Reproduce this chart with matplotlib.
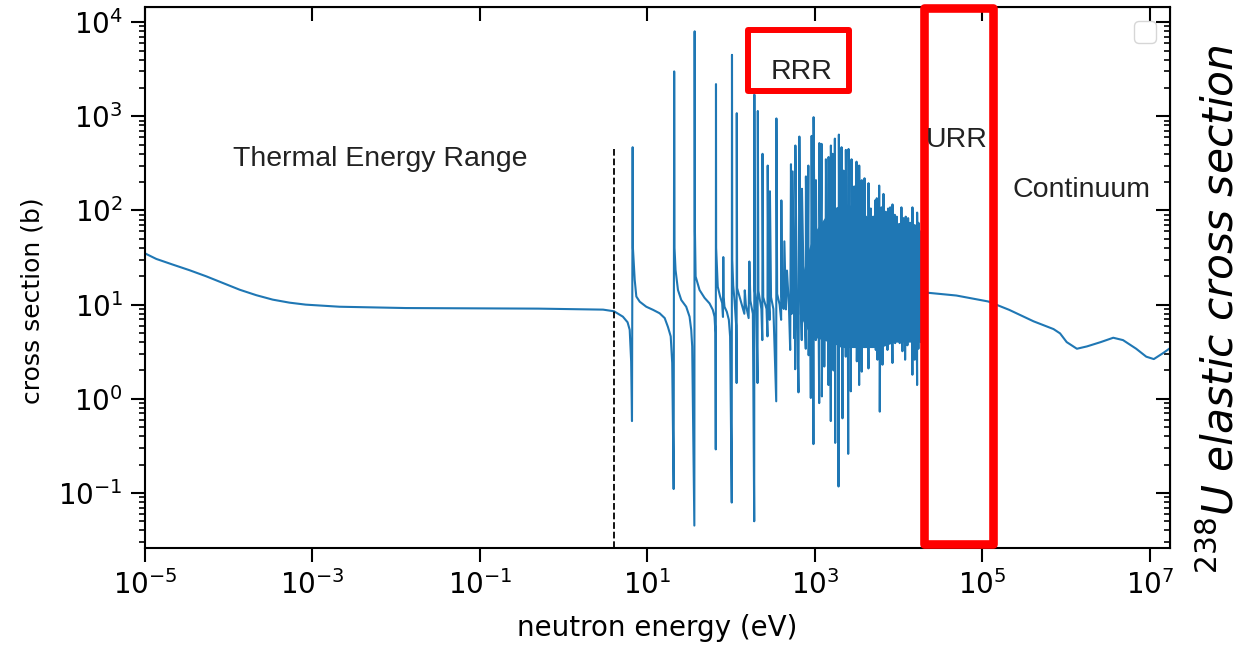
import numpy as np
import matplotlib.pyplot as plt
from matplotlib.patches import Rectangle
from matplotlib.ticker import NullLocator
import matplotlib.transforms as mtransforms

# --- data (energy in eV, cross section in b) ---
thermal_E = [1e-5, 1.36e-5, 2.15e-5, 3.4e-5, 5.37e-5, 8.5e-5, 1.35e-4, 2.13e-4,
             3.35e-4, 5.3e-4, 8.3e-4, 2.1e-3, 1.3e-2, 0.5, 2.96, 4.0, 5.1, 5.8,
             6.15, 6.4]
thermal_xs = [35, 30.6, 26.6, 23.2, 20.0, 17.0, 14.4, 12.6,
              11.3, 10.5, 10.0, 9.5, 9.2, 9.07, 8.85, 8.5, 7.45, 6.5,
              5.4, 2.5]

# isolated resolved resonances
res_E = [6.55, 6.67, 6.72, 7.06, 7.38, 8.1, 9.7, 11.7, 14.0, 16.1, 17.6, 19.0,
         19.8, 20.6, 20.9, 21.1, 21.7, 23.2, 25.4, 29.1, 31.9, 33.4, 34.3,
         36.4, 36.7, 37.0, 37.7, 42.0, 48.2, 55.3, 60.5, 63.4, 65.0,
         65.6, 66.0, 66.3, 69.3, 73.9, 78.2, 80.0, 80.7, 81.5, 83.4, 88.9, 94,
         97.3, 101.8, 102.5, 103.2, 106, 110, 115, 116.4, 116.9, 118,
         130, 144, 145.7, 150, 162, 165.3, 170, 182, 188.9, 189.7, 192, 200,
         207, 208.5, 212, 230, 236, 237.4, 242, 265, 272, 273.7, 280, 289, 291,
         300, 320, 346, 347.8, 355, 380, 396, 398.6, 405]
res_xs = [0.58, 470, 40, 18.3, 12.2, 10.75, 9.5, 8.8, 8.1, 7.2, 5.8, 4.6,
          2.4, 0.11, 3000, 40, 23.4, 14.3, 11.2, 9.5, 7.45, 5.4, 3.6,
          0.045, 8000, 60, 19.9, 14.3, 11.8, 10.3, 8.8, 7.45, 5.0,
          0.29, 2200, 40, 15.5, 12.2, 10.4, 7.4, 32, 12, 9.5, 8.4, 6.9,
          4.6, 0.079, 4500, 30, 16, 11, 6, 1.47, 1080, 15,
          11, 8, 14.2, 10, 7.2, 28.7, 11, 8, 0.05, 1700, 14, 10,
          1.47, 1140, 14, 9, 4.2, 400, 12, 9, 4.6, 300, 11, 6.9, 160,
          12, 9, 0.94, 950, 13, 10, 6.9, 128, 12]

# individual spikes of the dense part of the resolved range
dense_E = [425, 433, 452, 465, 490, 508, 519, 530, 544, 568, 575, 583, 586, 610,
           638, 654, 680, 698, 702, 740, 780, 783, 815, 837, 844, 870, 896, 916,
           940, 950, 963, 967, 1005, 1020, 1028, 1031, 1060, 1095, 1128, 1132,
           1170, 1205, 1215, 1235, 1255, 1273, 1298, 1320, 1340, 1357, 1405,
           1430, 1456, 1460, 1505, 1530, 1552, 1556, 1600, 1630, 1672, 1705,
           1720, 1736, 1752, 1760, 1800, 1834, 1870, 1900, 1920, 1938, 1975,
           1995, 2013, 2050, 2070, 2086, 2140, 2150, 2175, 2204, 2220, 2260,
           2300, 2320, 2343, 2348, 2420, 2470, 2505, 2529, 2600, 2650, 2690,
           2746, 2800, 2860, 2901, 2957, 3000, 3070, 3100, 3149, 3175, 3250,
           3300, 3350, 3385, 3391, 3460, 3520, 3600, 3636, 3642, 3720, 3800,
           3860, 3923, 3999, 4080, 4110, 4145, 4200, 4300, 4375, 4379, 4450,
           4560, 4640, 4664, 4750, 4850, 4983, 5023, 5100, 5180, 5262, 5349,
           5420, 5460, 5498, 5604, 5700, 5800, 5873, 5970, 6100, 6200, 6256,
           6429, 6500, 6550, 6607, 6700, 6850, 6923, 7037, 7200, 7300, 7374,
           7516, 7700, 7800, 7935, 7942, 8100, 8300, 8460, 8470, 8700, 8850,
           8950, 9012, 9111, 9300, 9400, 9517, 9703, 9900, 10000, 10166, 10335,
           10500, 10650, 10829, 11130, 11300, 11380, 11439, 11700, 11850, 11985,
           12183, 12500, 12650, 12766, 13013, 13300, 13500, 13752, 13760, 14100,
           14400, 14649, 14660, 15000, 15300, 15606, 15620, 16000, 16300, 16667,
           16680, 17000, 17100, 17274, 17300, 17700, 18100, 18500, 18900, 19300,
           19700]
dense_xs = [9, 47, 8.9, 23, 10, 3.3, 310, 8, 260, 4.4, 14, 2.06, 490, 11,
            1.17, 610, 12, 4.2, 170, 13, 3.4, 230, 6, 300, 2.9, 25, 1.02, 620,
            7, 20, 0.33, 980, 10, 30, 4.2, 210, 8, 35, 0.9, 520,
            9, 510, 1.06, 30, 8, 53, 2.2, 25, 7, 350, 8,
            20, 1.4, 370, 6, 25, 0.58, 490, 9, 400, 2.0, 30,
            6, 580, 0.34, 25, 8, 53, 8, 30, 0.117, 640, 9,
            25, 3.6, 30, 8, 470, 0.62, 22, 7, 265, 9, 40,
            7, 30, 2.8, 440, 9, 40, 0.26, 450, 8, 30, 1.2,
            350, 9, 30, 5.4, 180, 9, 35, 6, 330, 2.5, 40,
            8, 35, 1.4, 300, 9, 40, 6, 1.94, 210, 10, 35,
            7, 220, 8.5, 30, 9, 69, 7, 40, 2.1, 195, 9,
            35, 5.6, 105, 9, 30, 86, 6.9, 30, 8, 128, 3.3,
            30, 8, 135, 2.6, 30, 9, 184, 0.73, 30, 8, 108,
            2.3, 30, 9, 150, 7, 25, 4.2, 97, 8, 25, 3.3,
            105, 8, 30, 4.0, 108, 8, 30, 2.4, 116, 8, 30,
            7, 90, 3.9, 30, 8, 86, 5.0, 30, 8, 72, 3.9,
            30, 8, 108, 3.2, 30, 8, 83, 9, 30, 2.6,
            86, 9, 25, 3.7, 83, 9, 25, 4.8, 74, 9,
            30, 1.8, 108, 8, 30, 2.6, 70, 8, 30, 1.4,
            95, 8, 25, 3.4, 74, 6, 60, 4, 50, 5,
            40]

# band that the unresolvable dense lines fill solid
band_E = [650, 700, 850, 1000, 1500, 2200, 3000, 4000, 6000, 9000, 13000, 19000]
band_lo = [8, 7, 5, 4.5, 4, 3.5, 3.5, 3.5, 3.5, 4, 4, 4]
band_hi = [12, 20, 40, 60, 100, 120, 110, 90, 70, 60, 55, 55]

# unresolved range and continuum
cont_E = [2.0e4, 4.9e4, 1.18e5, 2.1e5, 4.1e5, 7.1e5, 8.5e5, 1.02e6, 1.35e6,
          1.78e6, 2.6e6, 3.67e6, 4.8e6, 6.9e6, 9.1e6, 1.12e7, 1.44e7, 1.75e7]
cont_xs = [13.5, 12.5, 10.8, 8.8, 6.65, 5.5, 4.95, 4.0, 3.4,
           3.6, 4.0, 4.45, 4.2, 3.4, 2.8, 2.64, 3.05, 3.45]

thermal_cut = 4.0            # eV, dashed line
urr_range = (2.0e4, 1.33e5)  # eV, red box

energy = np.concatenate([thermal_E, res_E, dense_E, cont_E])
xs = np.concatenate([thermal_xs, res_xs, dense_xs, cont_xs])

blue = '#1f77b4'

# --- figure ---
fig = plt.figure(figsize=(12.43, 6.48), dpi=100)
ax = fig.add_axes([0.1167, 0.1543, 0.8246, 0.8349])
ax.fill_between(band_E, band_lo, band_hi, color=blue, lw=0)
ax.plot(energy, xs, color=blue, lw=1.5)
ax.set_xscale('log')
ax.set_yscale('log')
ax.set_xlim(1e-5, 1.75e7)
ax.set_ylim(0.026, 1.45e4)
ax.vlines(thermal_cut, 0.026, 450, colors='k', linestyles='--', lw=1.3)

xt = [1e-5, 1e-3, 1e-1, 1e1, 1e3, 1e5, 1e7]
ax.set_xticks(xt)
ax.xaxis.set_minor_locator(NullLocator())
ax.tick_params(which='major', direction='out', length=10, width=1.5,
               labelsize=20, pad=6)
ax.tick_params(which='minor', direction='out', length=4.5, width=1.2)
for s in ax.spines.values():
    s.set_linewidth(1.5)

secx = ax.secondary_xaxis('top')
secx.set_xticks(xt)
secx.xaxis.set_minor_locator(NullLocator())
secx.tick_params(which='major', direction='in', length=10, width=1.5, labeltop=False)
secy = ax.secondary_yaxis('right')
secy.tick_params(which='major', direction='in', length=10, width=1.5, labelright=False)
secy.tick_params(which='minor', direction='in', length=4.5, width=1.2)

ax.set_xlabel('neutron energy (eV)', fontsize=20, labelpad=10)
ax.set_ylabel('cross section (b)', fontsize=18)
ax.yaxis.set_label_coords(-0.098, 0.458)

ax.legend(handles=[], loc='upper right', fontsize=20)

# region boxes and labels
blend = mtransforms.blended_transform_factory(ax.transData, ax.transAxes)
ax.add_patch(Rectangle((urr_range[0], 0.0074), urr_range[1] - urr_range[0], 0.9908,
                       transform=blend, fill=False, ec='red', lw=6.2,
                       joinstyle='round', clip_on=False, zorder=5))
inch = fig.dpi_scale_trans
fig.patches.append(Rectangle((7.48, 5.57), 1.01, 0.61, transform=inch,
                             fc='white', ec='red', lw=4.3, joinstyle='round',
                             zorder=5))

lab = dict(family='Liberation Sans', fontsize=20.5, color='#222222',
           va='baseline', transform=inch, zorder=6)
fig.text(2.33, 4.82, 'Thermal Energy Range', ha='left', **lab)
fig.text(8.012, 5.687, 'RRR', ha='center', **lab)
fig.text(9.26, 5.013, 'URR', ha='left', **lab)
fig.text(10.127, 4.513, 'Continuum', ha='left', **lab)

fig.text(12.33, 3.39, r'$^{238}$U elastic cross section', rotation=90,
         rotation_mode='anchor', ha='center', va='baseline', fontsize=30.5,
         style='italic', family='DejaVu Sans', color='black', transform=inch)

fig.savefig('out.png', dpi=100)
